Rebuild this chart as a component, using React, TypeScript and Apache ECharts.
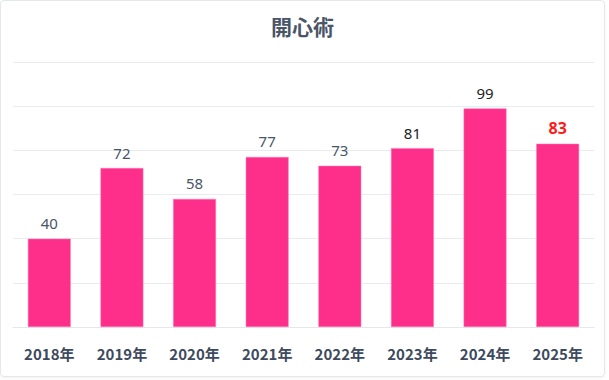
import React, { useEffect, useRef } from "react";
import * as echarts from "echarts";

const categories = ["2018年", "2019年", "2020年", "2021年", "2022年", "2023年", "2024年", "2025年"];
const values = [40, 72, 58, 77, 73, 81, 99, 83];
const labelColors = ["#4a5568", "#4a5568", "#4a5568", "#4a5568", "#4a5568", "#222222", "#222222", "#ff1a1a"];
const labelBold = [false, false, false, false, false, false, false, true];

export default function App() {
  const ref = useRef<HTMLDivElement>(null);
  useEffect(() => {
    if (!ref.current) return;
    const chart = echarts.init(ref.current, null, { renderer: "svg" });
    chart.setOption({
      animation: false,
      title: {
        text: "開心術",
        left: "center",
        top: 9,
        textStyle: { fontSize: 21, fontWeight: "bold", color: "#4a5568", fontFamily: "Noto Sans CJK JP" },
      },
      grid: { left: 12, right: 10, top: 61, bottom: 49, containLabel: false },
      xAxis: {
        type: "category",
        data: categories,
        axisLine: { show: true, lineStyle: { color: "#e3e7ee" } },
        axisTick: { show: false },
        axisLabel: {
          margin: 19,
          fontSize: 15,
          fontWeight: "bold",
          color: "#3d4a5e",
          fontFamily: "Noto Sans CJK JP",
        },
      },
      yAxis: {
        type: "value",
        min: 0,
        max: 120,
        interval: 20,
        axisLabel: { show: false },
        axisLine: { show: false },
        axisTick: { show: false },
        splitLine: { lineStyle: { color: "#e8ebf0" } },
      },
      series: [
        {
          type: "bar",
          barWidth: "59%",
          data: values.map((v, i) => ({
            value: v,
            label: {
              color: labelColors[i],
              fontWeight: labelBold[i] ? "bold" : "normal",
              fontSize: labelBold[i] ? 16 : 15,
            },
          })),
          itemStyle: { color: "#fe2f8a", borderColor: "#ff7ab5", borderWidth: 0.5 },
          label: {
            show: true,
            position: "top",
            distance: 8,
            fontFamily: "Noto Sans",
          },
        },
      ],
    });
    return () => chart.dispose();
  }, []);
  return (
    <div style={{ position: "absolute", left: 0, top: 0, width: 609, height: 380, background: "#ffffff" }}>
      <div
        style={{
          position: "absolute",
          left: 0,
          top: 0,
          width: 605,
          height: 377,
          border: "1px solid #e4e7ec",
          borderRadius: 4,
          boxShadow: "0 1px 3px rgba(0,0,0,0.06)",
          boxSizing: "border-box",
        }}
      >
        <div ref={ref} style={{ width: 603, height: 375 }} />
      </div>
    </div>
  );
}
